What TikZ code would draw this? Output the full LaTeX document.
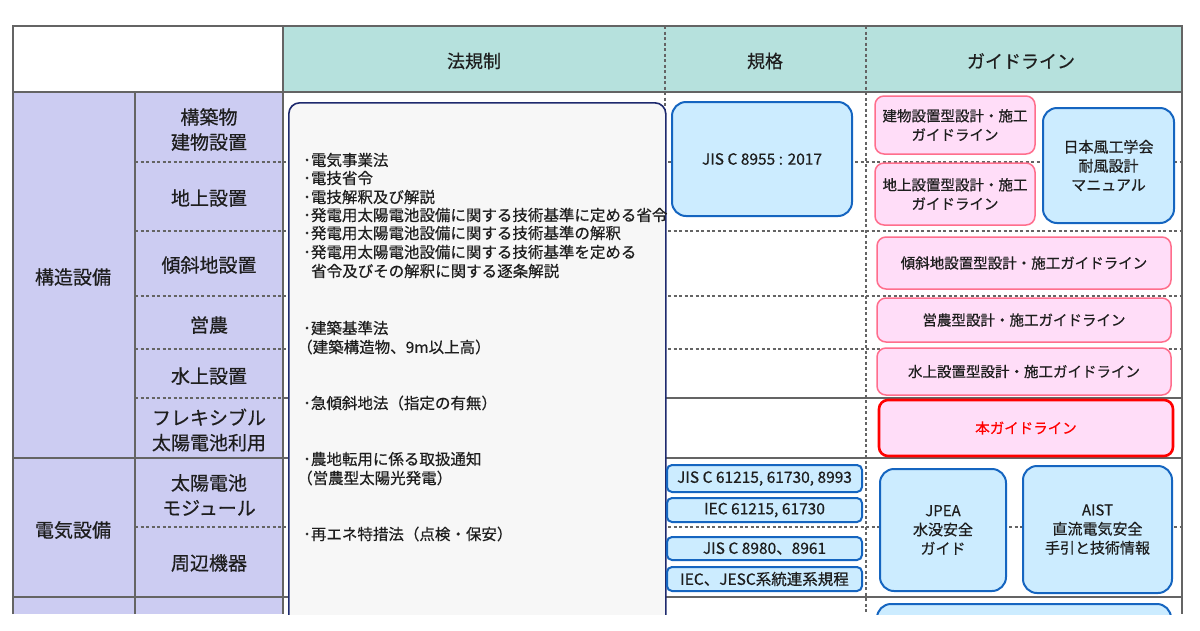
\documentclass[tikz,border=0pt]{standalone}
\usepackage{fontspec}
\setmainfont{Noto Sans CJK JP}[FakeBold=0.5]
\definecolor{headteal}{RGB}{182,225,221}
\definecolor{rowlav}{RGB}{204,204,242}
\definecolor{lawfill}{RGB}{247,247,247}
\definecolor{lawnavy}{RGB}{30,42,110}
\definecolor{stdblue}{RGB}{21,101,192}
\definecolor{stdfill}{RGB}{204,236,255}
\definecolor{guidefill}{RGB}{255,221,248}
\definecolor{guideedge}{RGB}{255,110,140}
\definecolor{gridgray}{RGB}{100,100,100}
\definecolor{inkgray}{RGB}{30,30,30}
\tikzset{
  every node/.style={text=inkgray,inner sep=0pt},
  solid rule/.style={draw=gridgray,line width=1.8pt},
  dash rule/.style={draw=gridgray,line width=1.1pt,dash pattern=on 3pt off 2.5pt},
  head text/.style={font=\fontsize{18}{22}\selectfont},
  row label/.style={font=\fontsize{19}{25}\selectfont,align=center},
  law line/.style={anchor=west,font=\fontsize{15.5}{18.5}\selectfont},
  law box/.style={draw=lawnavy,fill=lawfill,line width=1.6pt,rounded corners=11pt},
  std box/.style={draw=stdblue,fill=stdfill,line width=2pt,rounded corners=14pt,
    align=center,font=\fontsize{15}{19}\selectfont},
  small std/.style={std box,rounded corners=5pt,font=\fontsize{15.5}{18}\selectfont},
  guide box/.style={draw=guideedge,fill=guidefill,line width=1.5pt,rounded corners=9pt,
    align=center,font=\fontsize{14.5}{19}\selectfont},
  this guide/.style={guide box,draw=red,line width=2.6pt,text=red},
}
\begin{document}
\begin{tikzpicture}[x=1pt,y=-1pt]
\useasboundingbox[fill=white] (0,0) rectangle (1200,630);
\begin{scope}
\clip (0,0) rectangle (1200,614);
% cells
\fill[white] (13,26) rectangle (283,92);
\fill[headteal] (283,26) rectangle (1182,92);
\fill[rowlav] (13,92) rectangle (283,614);
% rules
\foreach \y in {162,231,296,349,398,527}
  \draw[dash rule] (135,\y) -- (283,\y);
\foreach \y in {162,231,296,349,527}
  \draw[dash rule] (283,\y) -- (1182,\y);
\foreach \y in {398,458,597}
  \draw[solid rule] (283,\y) -- (1182,\y);
\foreach \y in {458,597}
  \draw[solid rule] (13,\y) -- (283,\y);
\foreach \x in {665,866}
  \draw[dash rule] (\x,26) -- (\x,614);
\draw[solid rule] (135,92) -- (135,614);
\draw[solid rule] (283,26) -- (283,614);
\draw[solid rule] (13,92) -- (1182,92);
\draw[solid rule] (13,614) -- (13,26) -- (1182,26) -- (1182,614);
% headings
\node[head text] (headlaw) at (474,61) {法規制};
\node[head text] (headstd) at (765,61) {規格};
\node[head text] (headguide) at (1021,61) {ガイドライン};
\node[row label] (main1) at (73,277) {構造設備};
\node[row label] (main2) at (73,530) {電気設備};
\foreach \y/\t [count=\i] in {129.5/{構築物\\建物設置},198/地上設置,265/傾斜地設置,
    325/営農,376/水上設置,430/{フレキシブル\\太陽電池利用},495/{太陽電池\\モジュール},563/周辺機器}
  \node[row label] (sub\i) at (209,\y) {\t};
% laws
\node[law box,minimum width=377pt,minimum height=620pt,anchor=north west] (lawbox) at (288,102) {};
\foreach \x/\y/\t [count=\i] in {303/160/･電気事業法,303/178/･電技省令,303/197/･電技解釈及び解説,
    303/215/･発電用太陽電池設備に関する技術基準に定める省令,
    303/233/･発電用太陽電池設備に関する技術基準の解釈,
    303/252/･発電用太陽電池設備に関する技術基準を定める,
    311/271/省令及びその解釈に関する逐条解説,
    303/328/･建築基準法,297/347/（建築構造物、9m以上高）,303/403/･急傾斜地法（指定の有無）,
    303/459/･農地転用に係る取扱通知,297/478/（営農型太陽光発電）,303/534/･再エネ特措法（点検・保安）}
  \node[law line] (law\i) at (\x,\y) {\t};
% standards
\node[std box,minimum width=180pt,minimum height=114pt,font=\fontsize{15.5}{18}\selectfont] (jis8955) at (762,159) {JIS C 8955 : 2017};
\node[small std,minimum width=195pt,minimum height=27pt] (jis61215) at (764.5,478.5) {JIS C 61215, 61730, 8993};
\node[small std,minimum width=195pt,minimum height=24pt] (iec61215) at (764.5,510) {IEC 61215, 61730};
\node[small std,minimum width=195pt,minimum height=23pt] (jis8980) at (764.5,548.5) {JIS C 8980、8961};
\node[small std,minimum width=195pt,minimum height=24pt] (iecjesc) at (764.5,579) {IEC、JESC系統連系規程};
% guidelines
\node[guide box,minimum width=160pt,minimum height=58pt] (guidebuild) at (955,125) {建物設置型設計・施工\\ガイドライン};
\node[guide box,minimum width=160pt,minimum height=62pt] (guideground) at (955,194) {地上設置型設計・施工\\ガイドライン};
\node[std box,minimum width=131pt,minimum height=115pt] (windman) at (1108.5,165.5) {日本風工学会\\耐風設計\\マニュアル};
\node[guide box,minimum width=294pt,minimum height=52pt] (guideslope) at (1024,263) {傾斜地設置型設計・施工ガイドライン};
\node[guide box,minimum width=294pt,minimum height=44pt] (guidefarm) at (1024,320) {営農型設計・施工ガイドライン};
\node[guide box,minimum width=294pt,minimum height=47pt] (guidewater) at (1024,371.5) {水上設置型設計・施工ガイドライン};
\node[this guide,minimum width=294pt,minimum height=56pt] (guideflex) at (1026,428) {本ガイドライン};
\node[std box,minimum width=126pt,minimum height=122pt] (jpea) at (943,530) {JPEA\\水没安全\\ガイド};
\node[std box,minimum width=149pt,minimum height=127pt] (aist) at (1097.5,529.5) {AIST\\直流電気安全\\手引と技術情報};
\node[std box,minimum width=294pt,minimum height=40pt,anchor=north] (nextguide) at (1024,603) {};
\end{scope}
\end{tikzpicture}
\end{document}
